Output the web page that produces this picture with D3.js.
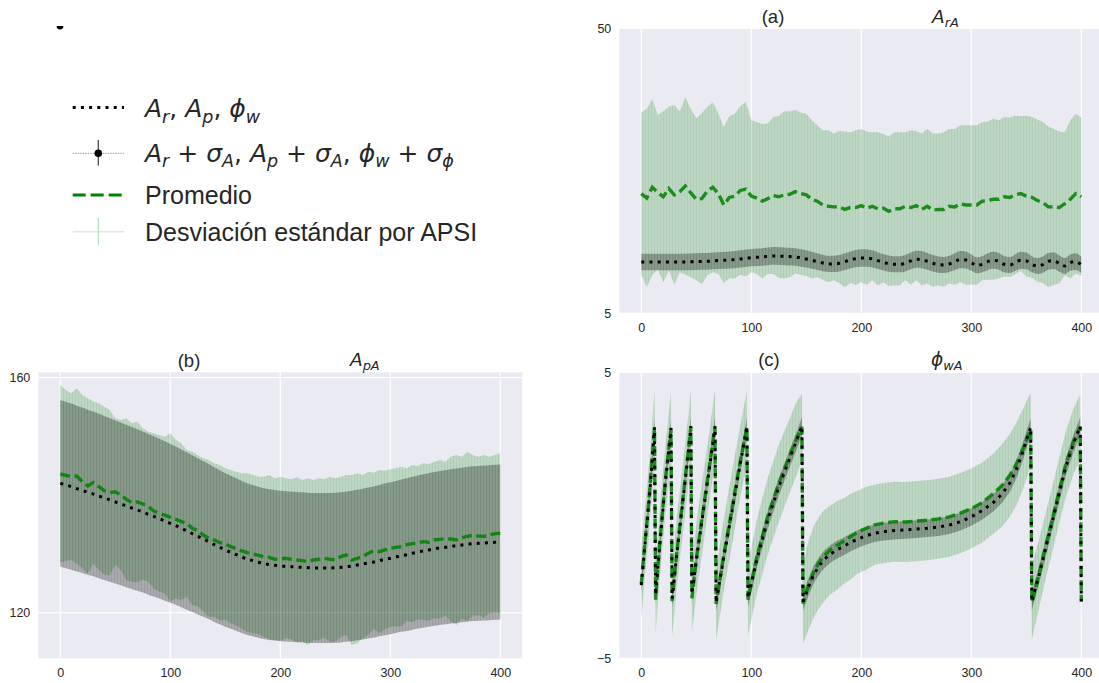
<!DOCTYPE html>
<html>
<head>
<meta charset="utf-8">
<script src="https://cdn.jsdelivr.net/npm/d3@7"></script>
<style>
  html, body { margin: 0; padding: 0; background: #fff; }
  svg { display: block; }
  text { white-space: pre; }
</style>
</head>
<body>
<svg id="fig" width="1099" height="683"></svg>
<script>
// ---------------------------------------------------------------
// Data
// ---------------------------------------------------------------
const xTicks = [0, 100, 200, 300, 400];
const sampleX = d3.range(0, 401, 5);   // APSI index, every 5th sample

// (a) A_rA
const yTicksA = [5, 50];
const trueAr = [
  13.11, 13.11, 13.11, 13.11, 13.11, 13.11, 13.11, 13.11, 13.11, 13.13,
  13.16, 13.19, 13.21, 13.27, 13.32, 13.37, 13.42, 13.48, 13.58, 13.69,
  13.79, 13.84, 13.90, 14.00, 14.06, 14.03, 14.00, 13.95, 13.90, 13.74,
  13.58, 13.37, 13.16, 12.95, 12.79, 12.79, 12.90, 13.16, 13.42, 13.63,
  13.74, 13.74, 13.58, 13.32, 13.06, 12.85, 12.74, 12.74, 12.90, 13.27,
  13.53, 13.48, 13.21, 12.90, 12.69, 12.63, 12.79, 13.16, 13.48, 13.42,
  13.00, 12.58, 12.74, 13.16, 13.37, 13.21, 12.74, 12.63, 13.00, 13.37,
  13.27, 12.74, 12.47, 12.69, 13.21, 13.32, 12.85, 12.47, 13.00, 13.16,
  12.63
];
const meanAr = [
  23.9, 23.2, 24.9, 24.1, 23.4, 24.7, 23.7, 24.2, 25.1, 24.0,
  23.0, 23.1, 24.3, 24.9, 23.9, 22.1, 23.3, 23.5, 24.4, 24.6,
  23.5, 23.2, 22.7, 23.1, 23.6, 23.4, 23.7, 23.8, 24.2, 23.9,
  23.7, 23.0, 22.7, 22.1, 21.9, 21.8, 21.8, 21.4, 21.7, 21.7,
  22.0, 21.6, 21.9, 21.5, 21.6, 21.1, 21.5, 21.5, 21.9, 21.7,
  22.0, 21.4, 21.9, 21.3, 21.4, 21.4, 21.9, 21.8, 22.3, 22.1,
  22.1, 22.1, 22.7, 22.8, 23.0, 23.0, 23.4, 23.3, 23.7, 23.9,
  23.5, 23.3, 22.8, 22.5, 21.8, 21.8, 21.7, 22.3, 23.0, 23.9,
  23.4
];
const stdAr = [
  12.8, 14.1, 13.9, 12.2, 13.5, 12.9, 14.2, 12.7, 14.0, 13.3,
  12.8, 13.5, 13.3, 13.4, 12.7, 12.3, 12.8, 13.0, 13.3, 13.8,
  12.0, 12.0, 12.2, 11.9, 12.4, 12.8, 13.2, 13.1, 12.9, 12.8,
  12.8, 12.5, 12.0, 11.8, 12.0, 11.6, 12.0, 12.3, 11.9, 12.2,
  12.1, 12.1, 11.7, 12.1, 11.7, 11.8, 12.1, 12.1, 11.7, 12.2,
  11.8, 12.0, 12.2, 12.1, 12.0, 12.2, 12.2, 12.3, 12.4, 12.6,
  12.6, 12.6, 12.5, 12.5, 12.7, 12.5, 12.6, 12.6, 12.5, 12.2,
  12.7, 12.7, 12.8, 12.7, 12.7, 12.3, 12.0, 11.3, 12.5, 12.6,
  12.5
];

// (b) A_pA
const yTicksB = [120, 160];
const trueAp = [
  142.02, 141.74, 141.46, 141.12, 140.83, 140.49, 140.21, 139.87, 139.53, 139.19,
  138.85, 138.51, 138.16, 137.82, 137.48, 137.14, 136.75, 136.41, 136.01, 135.61,
  135.21, 134.82, 134.36, 133.91, 133.46, 133.00, 132.55, 132.09, 131.58, 131.13,
  130.68, 130.28, 129.88, 129.48, 129.14, 128.86, 128.58, 128.35, 128.18, 128.07,
  127.95, 127.90, 127.84, 127.78, 127.72, 127.67, 127.61, 127.61, 127.61, 127.61,
  127.67, 127.72, 127.84, 127.95, 128.12, 128.29, 128.46, 128.63, 128.86, 129.09,
  129.26, 129.48, 129.71, 129.88, 130.11, 130.33, 130.51, 130.68, 130.85, 131.02,
  131.13, 131.30, 131.41, 131.53, 131.64, 131.75, 131.81, 131.87, 131.92, 131.98,
  132.04
];
const meanAp = [
  143.61, 143.38, 143.16, 143.27, 142.31, 141.57, 142.14, 141.46, 140.77, 140.43,
  140.60, 140.04, 139.30, 138.73, 138.85, 138.51, 138.05, 137.31, 136.92, 136.63,
  136.24, 135.90, 135.50, 135.21, 134.36, 133.97, 133.23, 132.66, 132.38, 131.92,
  131.70, 131.24, 130.90, 130.51, 130.22, 129.99, 129.77, 129.54, 129.43, 129.09,
  129.20, 129.26, 129.09, 128.97, 128.86, 128.69, 128.97, 129.09, 129.26, 129.09,
  128.97, 129.54, 129.82, 128.97, 129.26, 129.54, 130.11, 130.56, 130.39, 130.68,
  130.96, 131.13, 131.24, 131.58, 131.75, 131.92, 132.09, 131.98, 132.38, 132.49,
  132.60, 132.55, 132.38, 132.77, 133.00, 133.17, 133.06, 133.00, 133.23, 133.46,
  133.51
];
const stdAp = [
  15.15, 14.52, 14.18, 14.92, 14.75, 14.92, 13.79, 14.18, 14.30, 14.07,
  12.48, 12.77, 13.79, 13.50, 13.67, 12.88, 12.77, 13.22, 13.33, 13.33,
  14.30, 13.50, 13.33, 12.48, 13.05, 12.88, 13.05, 13.33, 13.05, 13.22,
  12.88, 13.05, 13.11, 13.22, 13.50, 13.45, 13.39, 13.62, 14.01, 13.79,
  13.96, 13.62, 13.62, 14.07, 13.73, 14.18, 13.62, 13.79, 13.45, 14.07,
  13.90, 13.62, 13.62, 14.47, 14.47, 13.90, 13.90, 13.28, 13.90, 13.50,
  13.45, 13.45, 13.62, 12.99, 13.39, 13.05, 13.33, 13.33, 13.33, 13.50,
  13.11, 14.01, 14.47, 13.79, 14.41, 13.67, 13.50, 13.84, 13.33, 13.39,
  13.62
];

// (c) phi_wA  (wrapped phase, samples around each wrap)
const yTicksC = [-5, 5];
const phaseX = [
  0, 2, 4, 6, 8, 10, 12,
  13, 16, 19, 22, 25, 27,
  28, 32, 36, 40, 43, 45,
  46, 51, 56, 61, 65, 67,
  68, 75, 82, 89, 96,
  97, 105, 115, 125, 135, 141, 146,
  147, 152, 157, 162, 166, 172, 178, 184, 190, 196,
  204, 212, 220, 230, 240, 250, 260, 270, 280, 290,
  300, 310, 320, 328, 335, 341, 347, 351, 354,
  355, 362, 368, 374, 380, 386, 393, 399, 400
];
const truePhi = [
  -2.44, -1.60, -0.72, 0.05, 0.95, 2.00, 3.08,
  -2.79, -1.40, -0.05, 1.20, 2.30, 3.06,
  -2.91, -1.45, -0.10, 1.25, 2.30, 3.12,
  -2.75, -1.30, 0.05, 1.40, 2.50, 3.12,
  -3.05, -1.45, 0.05, 1.60, 3.12,
  -2.90, -1.55, -0.15, 1.00, 2.00, 2.60, 3.12,
  -3.02, -2.50, -2.05, -1.75, -1.55, -1.35, -1.20, -1.08, -0.95, -0.84,
  -0.72, -0.62, -0.57, -0.53, -0.51, -0.48, -0.45, -0.41, -0.34, -0.22,
  -0.05, 0.17, 0.45, 0.75, 1.13, 1.60, 2.25, 2.75, 3.08,
  -3.02, -2.03, -1.09, -0.16, 0.78, 1.71, 2.53, 3.12, -3.00
];
const meanPhi = [
  -2.40, -1.50, -0.68, 0.12, 1.05, 2.08, 3.05,
  -2.95, -1.35, 0.02, 1.28, 2.35, 3.02,
  -3.00, -1.40, -0.02, 1.32, 2.36, 3.10,
  -2.90, -1.22, 0.12, 1.48, 2.58, 3.10,
  -3.10, -1.38, 0.15, 1.70, 3.08,
  -2.95, -1.45, -0.02, 1.12, 2.10, 2.68, 3.10,
  -3.08, -2.45, -1.95, -1.62, -1.42, -1.20, -1.05, -0.90, -0.75, -0.60,
  -0.46, -0.33, -0.27, -0.22, -0.23, -0.20, -0.17, -0.12, -0.05, 0.08,
  0.24, 0.45, 0.76, 1.05, 1.40, 1.80, 2.32, 2.72, 3.02,
  -3.05, -1.98, -1.00, -0.08, 0.88, 1.80, 2.60, 3.08, -3.02
];
const stdPhi = [
  1.25, 1.20, 1.20, 1.25, 1.20, 1.25, 1.30,
  1.20, 1.20, 1.25, 1.20, 1.25, 1.30,
  1.20, 1.25, 1.20, 1.25, 1.20, 1.30,
  1.20, 1.25, 1.25, 1.20, 1.25, 1.30,
  1.25, 1.25, 1.30, 1.25, 1.30,
  1.25, 1.30, 1.35, 1.35, 1.30, 1.30, 1.15,
  1.40, 1.55, 1.60, 1.60, 1.60, 1.55, 1.55, 1.50, 1.50, 1.45,
  1.45, 1.40, 1.40, 1.40, 1.40, 1.40, 1.40, 1.40, 1.40, 1.40,
  1.40, 1.40, 1.40, 1.45, 1.45, 1.45, 1.40, 1.35, 1.25,
  1.30, 1.20, 1.15, 1.15, 1.15, 1.15, 1.15, 1.15, 1.20
];

// reference uncertainties: sigma_A is relative to the amplitude, sigma_phi absolute
const ampSigmaRel = 0.10;
const phaseSigma = 0.31;

// legend / title text
const legendMathTrue = [['A', 'r'], ', ', ['A', 'p'], ', ', ['ϕ', 'w']];
const legendMathSigma = [['A', 'r'], ' + ', ['σ', 'A'], ', ', ['A', 'p'], ' + ', ['σ', 'A'], ', ',
                         ['ϕ', 'w'], ' + ', ['σ', 'ϕ']];
const legendMean = 'Promedio';
const legendStd = 'Desviación estándar por APSI';

// ---------------------------------------------------------------
// Drawing
// ---------------------------------------------------------------
const TEXT = '#262626';
const SANS = "'Liberation Sans', Arial, sans-serif";
const MATH = "'DejaVu Sans', sans-serif";
const GREEN = '#008000';

const svg = d3.select('#fig');
svg.append('rect').attr('width', 1099).attr('height', 683).attr('fill', '#ffffff');
const defs = svg.append('defs');

function stripes(id, base, line) {
  const p = defs.append('pattern').attr('id', id)
    .attr('patternUnits', 'userSpaceOnUse').attr('width', 3).attr('height', 8);
  p.append('rect').attr('width', 3).attr('height', 8).attr('fill', base);
  p.append('rect').attr('width', 1).attr('height', 8).attr('fill', line);
}
stripes('greenBars', 'rgba(0,128,0,0.19)', 'rgba(0,110,0,0.07)');
stripes('blackBars', 'rgba(0,0,0,0.28)', 'rgba(0,70,0,0.10)');

function renderMath(sel, x, y, parts, size, anchor) {
  const t = sel.append('text')
    .attr('x', x).attr('y', y)
    .attr('font-family', MATH).attr('font-size', size)
    .attr('fill', TEXT).attr('text-anchor', anchor || 'start');
  const sub = size * 0.22;
  let shift = 0;
  parts.forEach(p => {
    if (typeof p === 'string') {
      t.append('tspan').attr('dy', -shift).attr('font-style', 'normal').text(p);
      shift = 0;
    } else {
      t.append('tspan').attr('dy', -shift).attr('font-style', 'italic').text(p[0]);
      t.append('tspan').attr('dy', sub).attr('font-style', 'italic')
        .attr('font-size', size * 0.7).text(p[1]);
      shift = sub;
    }
  });
  return t;
}

let clipCount = 0;
function drawPanel(cfg) {
  const g = svg.append('g');
  const x = d3.scaleLinear().domain([-20, 420]).range([cfg.left, cfg.right]);
  const y = d3.scaleLinear().domain(cfg.yDomain).range([cfg.bottom, cfg.top]);

  const cid = 'clip' + (clipCount++);
  defs.append('clipPath').attr('id', cid).append('rect')
    .attr('x', cfg.left).attr('y', cfg.top)
    .attr('width', cfg.right - cfg.left).attr('height', cfg.bottom - cfg.top);

  g.append('rect')
    .attr('x', cfg.left).attr('y', cfg.top)
    .attr('width', cfg.right - cfg.left).attr('height', cfg.bottom - cfg.top)
    .attr('fill', '#EAEAF2');

  // grid
  const grid = g.append('g').attr('stroke', '#ffffff').attr('stroke-width', 1.2);
  grid.selectAll('line.v').data(xTicks).join('line').attr('class', 'v')
    .attr('x1', d => x(d)).attr('x2', d => x(d))
    .attr('y1', cfg.top).attr('y2', cfg.bottom);
  grid.selectAll('line.h').data(cfg.yTicks).join('line').attr('class', 'h')
    .attr('x1', cfg.left).attr('x2', cfg.right)
    .attr('y1', d => y(d)).attr('y2', d => y(d));

  // axes (labels only)
  const xa = g.append('g').attr('transform', `translate(0,${cfg.bottom})`)
    .call(d3.axisBottom(x).tickValues(xTicks).tickSize(0).tickPadding(10));
  const ya = g.append('g').attr('transform', `translate(${cfg.left},0)`)
    .call(d3.axisLeft(y).tickValues(cfg.yTicks).tickSize(0).tickPadding(8));
  [xa, ya].forEach(a => {
    a.select('.domain').remove();
    a.selectAll('text').attr('font-family', SANS).attr('font-size', 12.5).attr('fill', TEXT);
  });

  const rows = cfg.xs.map((xv, i) => ({ x: xv, t: cfg.truth[i], m: cfg.mean[i], s: cfg.std[i] }));
  const plot = g.append('g').attr('clip-path', `url(#${cid})`);

  // standard deviation per APSI
  plot.append('path').datum(rows)
    .attr('fill', 'url(#greenBars)')
    .attr('d', d3.area()
      .x(d => x(d.x)).y0(d => y(d.m - d.s)).y1(d => y(d.m + d.s)));

  // reference value +/- sigma
  plot.append('path').datum(rows)
    .attr('fill', 'url(#blackBars)')
    .attr('d', d3.area().curve(cfg.truthCurve)
      .x(d => x(d.x)).y0(d => y(d.t - cfg.err(d))).y1(d => y(d.t + cfg.err(d))));

  // mean
  plot.append('path').datum(rows)
    .attr('fill', 'none').attr('stroke', GREEN).attr('stroke-opacity', 0.85)
    .attr('stroke-width', 3.4).attr('stroke-dasharray', '10,4.5')
    .attr('d', d3.line().x(d => x(d.x)).y(d => y(d.m)));

  // reference value
  plot.append('path').datum(rows)
    .attr('fill', 'none').attr('stroke', '#000').attr('stroke-width', 3)
    .attr('stroke-dasharray', '3,5.2')
    .attr('d', d3.line().curve(cfg.truthCurve).x(d => x(d.x)).y(d => y(d.t)));

  // titles
  svg.append('text').attr('x', cfg.tag[0]).attr('y', cfg.tag[1])
    .attr('text-anchor', 'middle').attr('font-family', SANS).attr('font-size', 18.5)
    .attr('fill', TEXT).text(cfg.tagText);
  renderMath(svg, cfg.mathPos[0], cfg.mathPos[1], cfg.math, 18.5, 'start');
}

drawPanel({
  left: 619.3, right: 1103.3, top: 28.3, bottom: 313.3,
  yDomain: [5, 50], yTicks: yTicksA,
  xs: sampleX, truth: trueAr, mean: meanAr, std: stdAr,
  err: d => ampSigmaRel * d.t,
  truthCurve: d3.curveMonotoneX,
  tag: [773, 22.5], tagText: '(a)',
  mathPos: [932, 22.5], math: [['A', 'rA']]
});

drawPanel({
  left: 38.3, right: 522.3, top: 372.3, bottom: 658.3,
  yDomain: [112.24, 160.92], yTicks: yTicksB,
  xs: sampleX, truth: trueAp, mean: meanAp, std: stdAp,
  err: d => ampSigmaRel * d.t,
  truthCurve: d3.curveMonotoneX,
  tag: [189, 366.5], tagText: '(b)',
  mathPos: [350, 366], math: [['A', 'pA']]
});

drawPanel({
  left: 619.3, right: 1103.3, top: 372.5, bottom: 658.3,
  yDomain: [-5, 5], yTicks: yTicksC,
  xs: phaseX, truth: truePhi, mean: meanPhi, std: stdPhi,
  err: () => phaseSigma,
  truthCurve: d3.curveLinear,
  tag: [769, 366], tagText: '(c)',
  mathPos: [931, 366], math: [['ϕ', 'wA']]
});

// ---------------------------------------------------------------
// Legend
// ---------------------------------------------------------------
const lg = svg.append('g');
const hx0 = 72.7, hx1 = 124, hxm = 98.3, tx = 145, fs = 25;

// reference value
lg.append('line').attr('x1', hx0).attr('x2', hx1).attr('y1', 107.5).attr('y2', 107.5)
  .attr('stroke', '#000').attr('stroke-width', 3).attr('stroke-dasharray', '3,5.2');
renderMath(lg, tx, 117, legendMathTrue, fs, 'start');

// reference value with error bar
lg.append('line').attr('x1', hx0).attr('x2', hx1).attr('y1', 153.3).attr('y2', 153.3)
  .attr('stroke', '#9a9a9a').attr('stroke-width', 1).attr('stroke-dasharray', '1.5,1');
lg.append('line').attr('x1', hxm).attr('x2', hxm).attr('y1', 140).attr('y2', 165.5)
  .attr('stroke', '#000').attr('stroke-opacity', 0.7).attr('stroke-width', 1.3);
lg.append('circle').attr('cx', hxm).attr('cy', 153.3).attr('r', 3.8).attr('fill', '#000');
renderMath(lg, tx, 161.5, legendMathSigma, fs, 'start');

// mean
lg.append('line').attr('x1', hx0).attr('x2', hx1).attr('y1', 195).attr('y2', 195)
  .attr('stroke', GREEN).attr('stroke-width', 3).attr('stroke-dasharray', '13,5');
lg.append('text').attr('x', tx).attr('y', 204).attr('font-family', SANS)
  .attr('font-size', fs).attr('fill', TEXT).text(legendMean);

// std per APSI
lg.append('line').attr('x1', hx0).attr('x2', hx1).attr('y1', 231.7).attr('y2', 231.7)
  .attr('stroke', '#dfe5ee').attr('stroke-width', 1.5);
lg.append('line').attr('x1', hxm).attr('x2', hxm).attr('y1', 218).attr('y2', 245)
  .attr('stroke', '#b6dcbc').attr('stroke-width', 1.2);
lg.append('text').attr('x', tx).attr('y', 240.5).attr('font-family', SANS)
  .attr('font-size', fs).attr('fill', TEXT).text(legendStd);

// small clipped marker at the top-left corner
svg.append('path').attr('d', 'M56.6,26 A3.4,3.4 0 0 0 63.4,26 Z').attr('fill', '#000');
</script>
</body>
</html>
